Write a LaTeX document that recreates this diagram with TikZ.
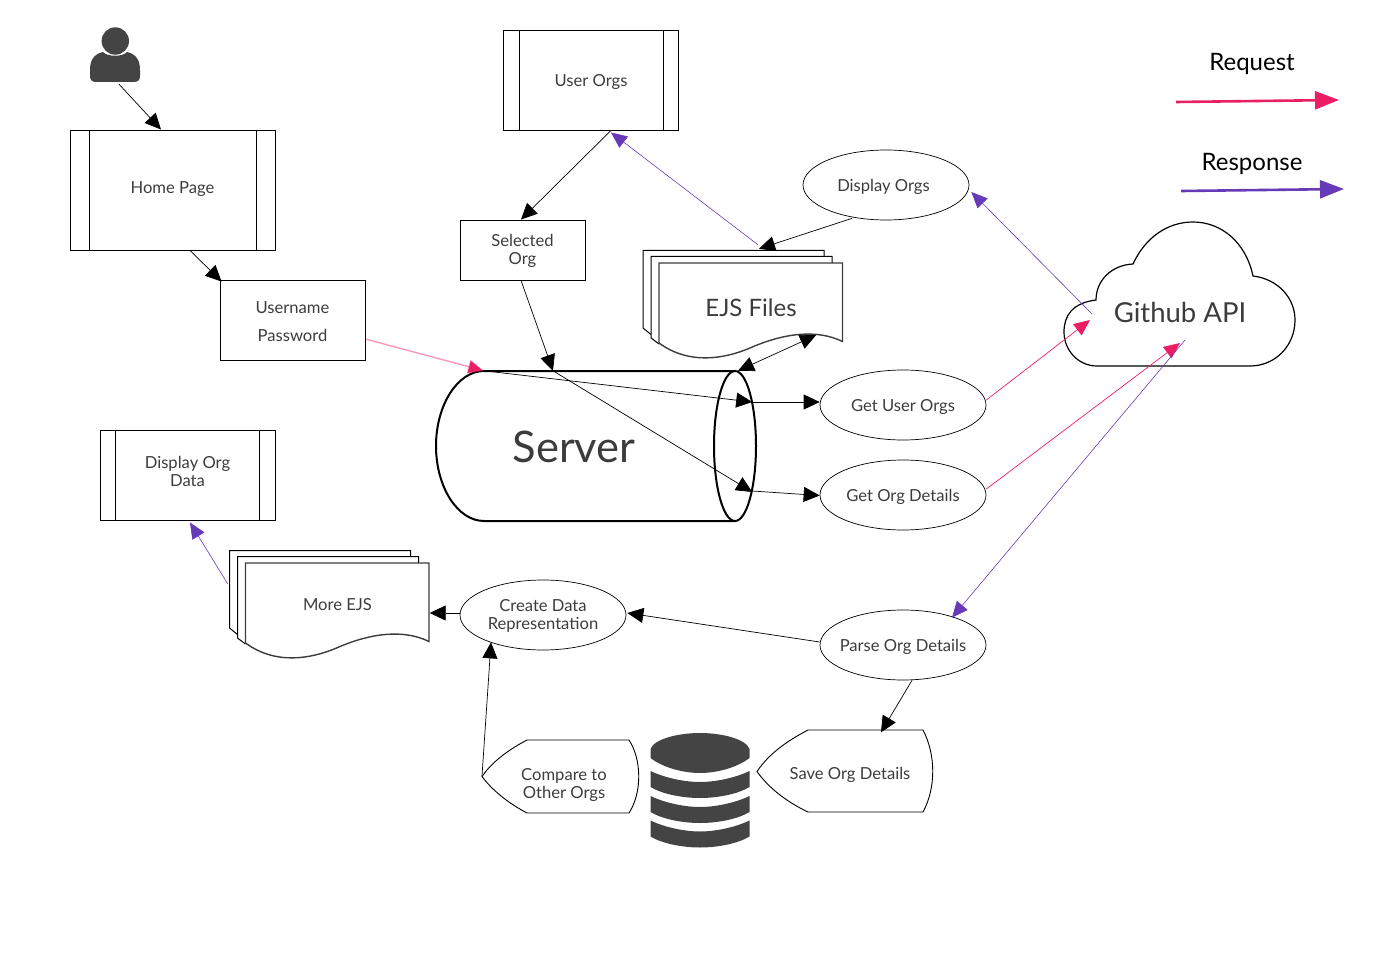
\documentclass[tikz,border=0pt]{standalone}
\usepackage{fontspec}
\setmainfont{Lato}
\usetikzlibrary{arrows.meta}
\usetikzlibrary{shapes.geometric}
\definecolor{inkgray}{RGB}{60,60,60}
\definecolor{iconfill}{RGB}{68,68,68}
\definecolor{reqpink}{RGB}{233,30,99}
\definecolor{respurple}{RGB}{103,58,183}
\tikzset{
  flownode/.style = {align=center, inner sep=0pt, text=inkgray,
    font=\fontsize{16.6}{18}\selectfont},
  flow_box/.style = {flownode, rectangle, draw=black, line width=0.9pt},% plain box
  flow_proc/.style = {flow_box, path picture={
      \draw[line width=0.9pt] ([xshift=#1]path picture bounding box.north west)
        -- ([xshift=#1]path picture bounding box.south west);
      \draw[line width=0.9pt] ([xshift=-#1]path picture bounding box.north east)
        -- ([xshift=-#1]path picture bounding box.south east);
    }},% box with side bars
  flow_ell/.style = {flownode, ellipse, draw=black, line width=0.7pt, inner xsep=-25pt,
    text depth=0pt, minimum width=166pt, minimum height=70pt},
  flow_txt/.style = {flownode},% text only, outline drawn by hand
  link/.style = {-{Triangle[length=16pt,width=15pt]}, black, line width=0.7pt},
  link_req/.style = {-{Triangle[length=16pt,width=14pt]}, reqpink, line width=0.7pt},
  link_res/.style = {-{Triangle[length=16pt,width=14pt]}, respurple, line width=0.6pt},
  legend_req/.style = {-{Triangle[length=24pt,width=18pt]}, reqpink, line width=2.6pt},
  legend_res/.style = {-{Triangle[length=24pt,width=18pt]}, respurple, line width=2.6pt},
}
% three stacked wavy sheets, origin at the front sheet's top left corner
\newcommand{\docstack}[2]{
  \begin{scope}[shift={(#1,#2)}, line width=1pt]
    \draw (-8,71.5) -- (-16,65) -- (-16,-12.5) -- (165,-12.5) -- (165,-6.5);
    \draw (0,81) -- (-8,75) -- (-8,-6.5) -- (173,-6.5) -- (173,0);
    \draw[draw=inkgray, line width=1.4pt] (0,0) -- (183.5,0) -- (183.5,78.5)
      .. controls (158,66) and (125,70) .. (91,85)
      .. controls (65,96) and (30,102) .. (0,80) -- cycle;
  \end{scope}
}
% one slice of the database icon
\newcommand{\dbband}[1]{
  \fill[iconfill] (650.5,#1) .. controls (665,#1+7) and (685,#1+11) .. (700,#1+11)
    .. controls (715,#1+11) and (735,#1+7) .. (749.5,#1) -- (749.5,#1+16)
    .. controls (738,#1+23) and (718,#1+27) .. (700,#1+27)
    .. controls (682,#1+27) and (662,#1+23) .. (650.5,#1+16) -- cycle;
}

\begin{document}
\begin{tikzpicture}[x=1pt,y=-1pt]
  \useasboundingbox (0,0) rectangle (1390,960);
%   boxes
  \node[flow_proc=19pt, text depth=4.5pt, minimum width=205pt, minimum height=120pt] (home) at (172.5,190) {Home Page};
  \node[flow_box, text depth=0pt, minimum width=145pt, minimum height=80pt] (login) at (292.5,320) {\rule{0pt}{15pt}Username\\[10pt]Password};
  \node[flow_proc=15.5pt, text depth=0pt, minimum width=175pt, minimum height=100pt] (orgs) at (591,80) {User Orgs};
  \node[flow_box, text depth=1.5pt, minimum width=125pt, minimum height=60pt] (selected) at (522.5,250) {Selected\\Org};
  \node[flow_proc=15.5pt, text depth=7.5pt, minimum width=175pt, minimum height=90pt] (orgdata) at (187.5,475) {Display Org\\Data};
%   ellipses
  \node[flow_ell] (showorgs) at (886,185) {\hspace*{-5pt}Display Orgs};
  \node[flow_ell] (getorgs) at (903,405) {Get User Orgs};
  \node[flow_ell] (getdetails) at (903,495) {Get Org Details};
  \node[flow_ell] (parse) at (903,645) {Parse Org Details};
  \node[flow_ell, text depth=1.5pt] (rep) at (543,615) {Create Data\\Representation};
%   sheets
  \docstack{659}{263}
  \node[flow_txt, minimum width=184pt, minimum height=90pt, font=\fontsize{24}{28}\selectfont] (ejs) at (751,308) {EJS Files};
  \docstack{245.5}{563}
  \node[flow_txt, minimum width=184pt, minimum height=81pt] (moreejs) at (337.5,604.5) {More EJS};
%   server
  \draw[line width=2pt] (484,371) -- (735,371) (735,521) -- (484,521)
    .. controls (457.6,521) and (436,487) .. (436,446)
    .. controls (436,405) and (457.6,371) .. (484,371);
  \draw[line width=2pt] (735,446) ellipse [x radius=21, y radius=75];
  \node[flow_txt, minimum width=320pt, minimum height=150pt] (server) at (596,446) {};
  \node[flow_txt, font=\fontsize{43.5}{48}\selectfont] (serverlabel) at (574,447) {Server};
%   cloud
  \draw[line width=1.2pt] (1096,300) .. controls (1096,280) and (1112,265) .. (1133,264)
    .. controls (1145,238) and (1167,222) .. (1193,222)
    .. controls (1222,222) and (1246,243) .. (1253,276)
    .. controls (1278,279) and (1295,298) .. (1295,320)
    .. controls (1295,346) and (1275,366) .. (1250,366)
    -- (1097,366)
    .. controls (1078,366) and (1064,350) .. (1064,332)
    .. controls (1064,316) and (1072,303) .. (1096,300) -- cycle;
  \node[flow_txt, font=\fontsize{27.5}{30}\selectfont] (github) at (1180,312) {Github API};
%   storage shapes
  \draw[line width=0.9pt] (808,730) -- (923,730) .. controls (936,755) and (936,788) .. (923,812)
    -- (808,812) .. controls (785,801) and (768,787) .. (757,771.5)
    .. controls (768,755) and (785,742) .. (808,730) -- cycle;
  \node[flow_txt, text depth=0pt] (save) at (850,773) {Save Org Details};
  \draw[line width=0.9pt] (527,740) -- (629,740) .. controls (642,760) and (642,793) .. (629,813)
    -- (527,813) .. controls (508,803) and (492,790) .. (482,776.5)
    .. controls (492,762) and (508,750) .. (527,740) -- cycle;
  \node[flow_txt, text depth=0pt] (compare) at (564,783) {Compare to\\Other Orgs};
%   user icon
  \node[flow_txt, minimum width=50pt, minimum height=54pt] (user) at (115,55) {};
  \fill[iconfill] (115.3,41) circle [radius=13.7];
  \fill[iconfill] (90,76) -- (90,70) .. controls (90,60) and (94,54) .. (103,52)
    .. controls (107,57) and (123,57) .. (127,52) .. controls (136,54) and (140,60) .. (140,70)
    -- (140,76) .. controls (140,80) and (138,82) .. (134,82) -- (96,82)
    .. controls (92,82) and (90,80) .. (90,76) -- cycle;
%   database icon
  \node[flow_txt, minimum width=99pt, minimum height=115pt] (db) at (700,790) {};
  \fill[iconfill] (650.5,749) .. controls (654,739) and (678,733) .. (700,733)
    .. controls (722,733) and (746,739) .. (749.5,749) -- (749.5,758)
    .. controls (738,767) and (718,773) .. (700,773)
    .. controls (682,773) and (662,767) .. (650.5,758) -- cycle;
  \dbband{771}
  \dbband{796}
  \dbband{820.5}
%   legend
  \node[flow_txt, text=black, text depth=0pt, font=\fontsize{24}{26}\selectfont] (request) at (1252,62) {Request};
  \node[flow_txt, text=black, text depth=0pt, font=\fontsize{24}{26}\selectfont] (response) at (1252,162) {Response};
  \coordinate (reqA) at (1176,102);
  \coordinate (reqB) at (1339,100);
  \coordinate (resA) at (1181,191);
  \coordinate (resB) at (1344,189);
  \draw[legend_req] (reqA) -- (reqB);
  \draw[legend_res] (resA) -- (resB);
%   login path
  \draw[link] ([xshift=4pt,yshift=-2pt]user.south) -- ([xshift=-11.5pt]home.north);
  \draw[link] ([xshift=17.5pt]home.south) -- ([xshift=2pt,yshift=-2pt]login.north west);
  \draw[link_req, draw opacity=0.45, line width=1.4pt] ([yshift=-19pt]login.east) -- ([xshift=-112pt]server.north);
%   server flow
  \draw[link] ([xshift=-112pt]server.north) -- ([xshift=-4pt,yshift=44pt]server.east);
  \draw[link] ([xshift=-43pt]server.north) -- ([xshift=-4pt,yshift=-46pt]server.east);
  \draw[link] ([xshift=-4pt,yshift=44pt]server.east) -- ([yshift=3pt]getorgs.west);
  \draw[link] ([xshift=-4pt,yshift=-45pt]server.east) -- ([yshift=-0.5pt]getdetails.west);
  \draw[link, {Triangle[length=16pt,width=15pt]}-{Triangle[length=16pt,width=15pt]}] ([xshift=65pt,yshift=18pt]ejs.south) -- ([xshift=142pt]server.north);
  \draw[link] ([xshift=20pt]orgs.south) -- ([xshift=-1.5pt]selected.north);
  \draw[link] ([xshift=-1.5pt]selected.south) -- ([xshift=-43pt]server.north);
  \draw[link] ([xshift=-34pt,yshift=2pt]showorgs.south) -- ([xshift=8pt,yshift=14pt]ejs.north);
  \draw[link_res] ([xshift=7pt,yshift=18pt]ejs.north) -- ([xshift=20pt,yshift=-2pt]orgs.south);
%   github calls
  \draw[link_res] ([xshift=-88pt,yshift=-2pt]github.center) -- ([xshift=2pt,yshift=-7pt]showorgs.east);
  \draw[link_req] ([yshift=5pt]getorgs.east) -- ([xshift=-90pt,yshift=-8pt]github.center);
  \draw[link_req] ([yshift=6pt]getdetails.east) -- ([yshift=-31pt]github.center);
  \draw[link_res] ([xshift=5pt,yshift=-28pt]github.center) -- ([xshift=49pt,yshift=-8pt]parse.north);
%   lower flow
  \draw[link] ([yshift=3pt]parse.west) -- ([xshift=1pt,yshift=2pt]rep.east);
  \draw[link] ([xshift=9pt]parse.south) -- ([xshift=31pt]save.north |- db.north);
  \draw[link] ([yshift=2pt]rep.west) -- ([yshift=-8.5pt]moreejs.east);
  \draw[link] ([xshift=-82pt,yshift=7pt]compare.center) -- ([xshift=-52pt,yshift=8pt]rep.south);
  \draw[link_res] ([xshift=-17.5pt,yshift=20.5pt]moreejs.west) -- ([xshift=2.5pt,yshift=-2pt]orgdata.south);
\end{tikzpicture}
\end{document}
